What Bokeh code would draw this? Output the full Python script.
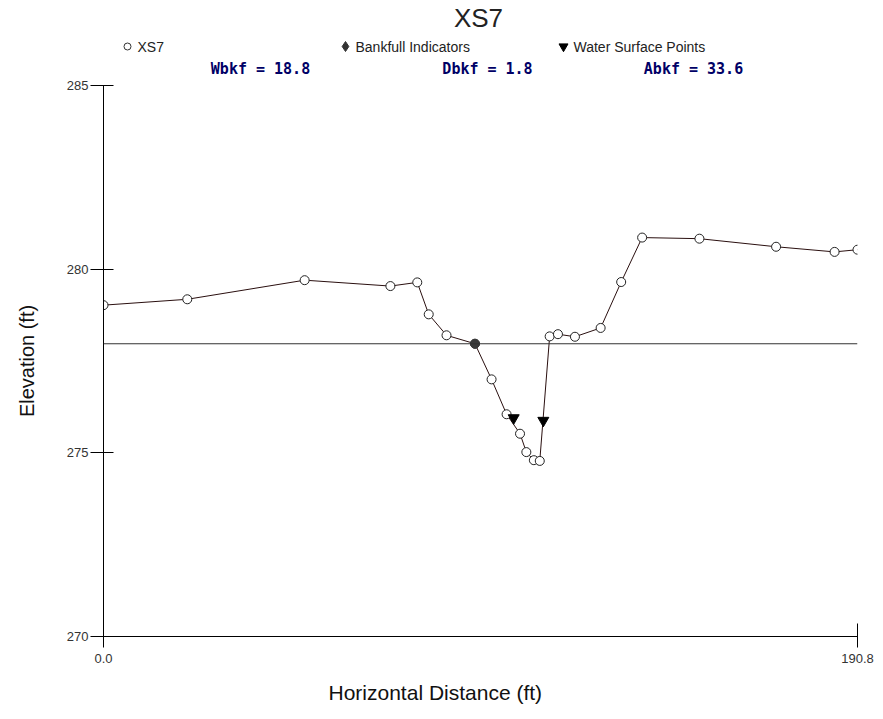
from bokeh.plotting import figure
from bokeh.layouts import column
from bokeh.models import Range1d, FixedTicker, PrintfTickFormatter, Span, Title
from bokeh.core.properties import value
from bokeh.embed import file_html
from bokeh.resources import INLINE

# ---- data ----
station = [0.0, 21.2, 50.9, 72.6, 79.4, 82.3, 86.8, 94.0, 98.2, 102.0, 105.4, 107.0,
           108.9, 110.4, 112.9, 115.0, 119.3, 125.8, 131.0, 136.3, 150.8, 170.2, 185.0, 190.8]
elevation = [279.02, 279.18, 279.70, 279.54, 279.64, 278.77, 278.20, 277.97, 277.00, 276.05,
             275.52, 275.02, 274.80, 274.78, 278.17, 278.23, 278.16, 278.40, 279.65, 280.86,
             280.83, 280.61, 280.47, 280.53]
bankfull_x = [94.0]
bankfull_y = [277.97]
ws_x = [103.8, 111.3]
ws_y = [275.95, 275.88]
bankfull_elev = 277.97
x_ticks = [0.0, 190.8]
y_ticks = [270, 275, 280, 285]
section_name = "XS7"
legend_labels = ["XS7", "Bankfull Indicators", "Water Surface Points"]
stat_labels = ["Wbkf = 18.8", "Dbkf = 1.8", "Abkf = 33.6"]

FONT = value("Liberation Sans")

# ---- header (title, legend, stats) ----
H = 78
# the column aligns this figure's frame with the main plot's frame (103..857 px)
header = figure(width=883, height=H, x_range=Range1d(103, 857), y_range=Range1d(H, 0),
                min_border=0, min_border_left=103, min_border_right=26,
                toolbar_location=None, output_backend="svg")
header.axis.visible = False
header.grid.visible = False
header.outline_line_color = None

header.text(x=[478], y=[17], text=[section_name], text_align="center", text_baseline="middle",
            text_font=FONT, text_font_size="26px", text_color="#222222")

header.scatter(x=[127], y=[46], marker="circle", size=7, fill_color="white", line_color="#333333")
header.scatter(x=[345], y=[46], marker="diamond", size=10, fill_color="#333333", line_color="#333333")
header.scatter(x=[563], y=[46], marker="inverted_triangle", size=9, fill_color="black", line_color="black")
header.text(x=[137, 355, 573], y=[46, 46, 46], text=legend_labels, text_align="left",
            text_baseline="middle", text_font=FONT, text_font_size="14px", text_color="#222222")

header.text(x=[260, 487, 693], y=[68, 68, 68], text=stat_labels, text_align="center",
            text_baseline="middle", text_font=value("DejaVu Sans Mono"), text_font_style="bold",
            text_font_size="15px", text_color="#000066")

# ---- main plot ----
p = figure(width=883, height=719 - H, x_range=Range1d(0, 190.8), y_range=Range1d(270, 285),
           min_border_left=103, min_border_right=26, min_border_top=85 - H, min_border_bottom=83,
           toolbar_location=None, output_backend="svg")
p.grid.visible = False
p.outline_line_color = None

for ax in (p.xaxis[0], p.yaxis[0]):
    ax.axis_line_color = "black"
    ax.major_tick_line_color = "black"
    ax.minor_tick_line_color = None
    ax.major_label_text_font = "Liberation Sans"
    ax.major_label_text_font_size = "13px"
    ax.major_label_text_color = "#333333"

p.yaxis.ticker = FixedTicker(ticks=y_ticks)
p.yaxis.major_tick_in = 10
p.yaxis.major_tick_out = 13
p.yaxis.major_label_standoff = 2
p.yaxis.axis_label = "Elevation (ft)"
p.yaxis.axis_label_text_font = "Liberation Sans"
p.yaxis.axis_label_text_font_size = "20px"
p.yaxis.axis_label_text_font_style = "normal"
p.yaxis.axis_label_text_color = "#111111"
p.yaxis.axis_label_standoff = 26

p.xaxis.ticker = FixedTicker(ticks=x_ticks)
p.xaxis.formatter = PrintfTickFormatter(format="%.1f")
p.xaxis.major_tick_in = 13
p.xaxis.major_tick_out = 11
p.xaxis.major_label_standoff = 6

xlabel = Title(text="Horizontal Distance (ft)", align="left", offset=225,
               text_font="Liberation Sans", text_font_size="21px", text_font_style="normal",
               text_color="#111111", standoff=26)
p.add_layout(xlabel, "below")

p.add_layout(Span(location=bankfull_elev, dimension="width", line_color="#333333", line_width=1.2))

p.line(station, elevation, line_color="#2a0f0f", line_width=1)
p.scatter(station, elevation, marker="circle", size=9, fill_color="white",
          line_color="#222222", line_width=1)
p.scatter(bankfull_x, bankfull_y, marker="circle", size=9, fill_color="#3a3a3a",
          line_color="#3a3a3a")
p.scatter(ws_x, ws_y, marker="inverted_triangle", size=11, fill_color="black",
          line_color="black")

layout = column(header, p)
open("out.html", "w").write(file_html(layout, INLINE))
